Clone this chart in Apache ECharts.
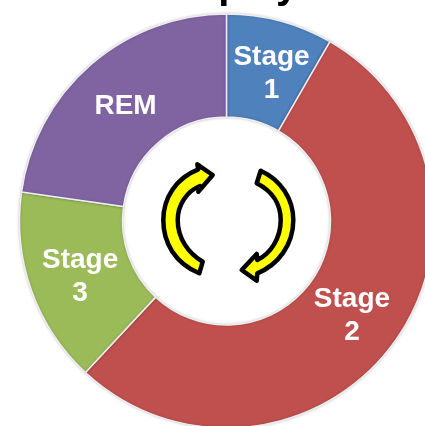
<!DOCTYPE html>
<html><head><meta charset="utf-8"><style>html,body{margin:0;padding:0;background:#fff;overflow:hidden}#c{width:425px;height:426px}</style>
<script src="https://cdn.jsdelivr.net/npm/echarts@6/dist/echarts.min.js"></script></head><body><div id="c"></div>
<script>
const categories=['Stage\n1','Stage\n2','Stage\n3','REM'];
const values=[8.33,53.6,15.3,22.77];
const colors=['#4f81bd','#c0504d','#9bbb59','#8064a2'];
const labelOffsets=[[4,6],[-2,1],[3,3],[3,5]];
const titleText='Sleep cycle';
const arrowLeft='M199.3 273.3C175 263 163.3 243 163.3 220C163.3 198 176 178 198.3 169.3L197.3 164.3L212.7 175L198.3 191.7L200 186C187 191 177.7 205 177.7 220C177.7 238 188 253 202.7 261.7Z';
const arrowRight='M260.7 170.7C281 180 293.3 199 293.3 220C293.3 245 278 265 257.3 273.3L256.7 280.7L241.7 270L256.7 254L257.3 260C270 254 280.7 239 280.7 220C280.7 204 272 191 256.7 183.3Z';
echarts.graphic.registerShape('arrowLeft',echarts.graphic.extendPath(arrowLeft,{}));
echarts.graphic.registerShape('arrowRight',echarts.graphic.extendPath(arrowRight,{}));
const chart=echarts.init(document.getElementById('c'),null,{renderer:'canvas'});
const arrow=t=>({type:t,style:{fill:'#ffff00',stroke:'#000',lineWidth:4.5,lineJoin:'round'},z:10});
chart.setOption({animation:false,
 title:{text:titleText,left:245,top:-33,padding:0,textAlign:'center',textStyle:{fontFamily:'Liberation Sans',fontSize:40,fontWeight:'bold',color:'#000'}},
 series:[{type:'pie',center:[226.5,221],radius:[104,207],startAngle:90,clockwise:true,
  data:categories.map((n,i)=>({name:n,value:values[i],itemStyle:{color:colors[i]},label:{offset:labelOffsets[i]}})),
  itemStyle:{borderColor:'#eeeef2',borderWidth:1.5,shadowBlur:3,shadowColor:'rgba(0,0,0,0.2)'},
  label:{position:'inside',formatter:'{b}',color:'#fff',fontFamily:'Liberation Sans',fontSize:28,fontWeight:'bold',lineHeight:33},
  labelLine:{show:false},emphasis:{disabled:true}}],
 graphic:[arrow('arrowLeft'),arrow('arrowRight')]
});
</script></body></html>
